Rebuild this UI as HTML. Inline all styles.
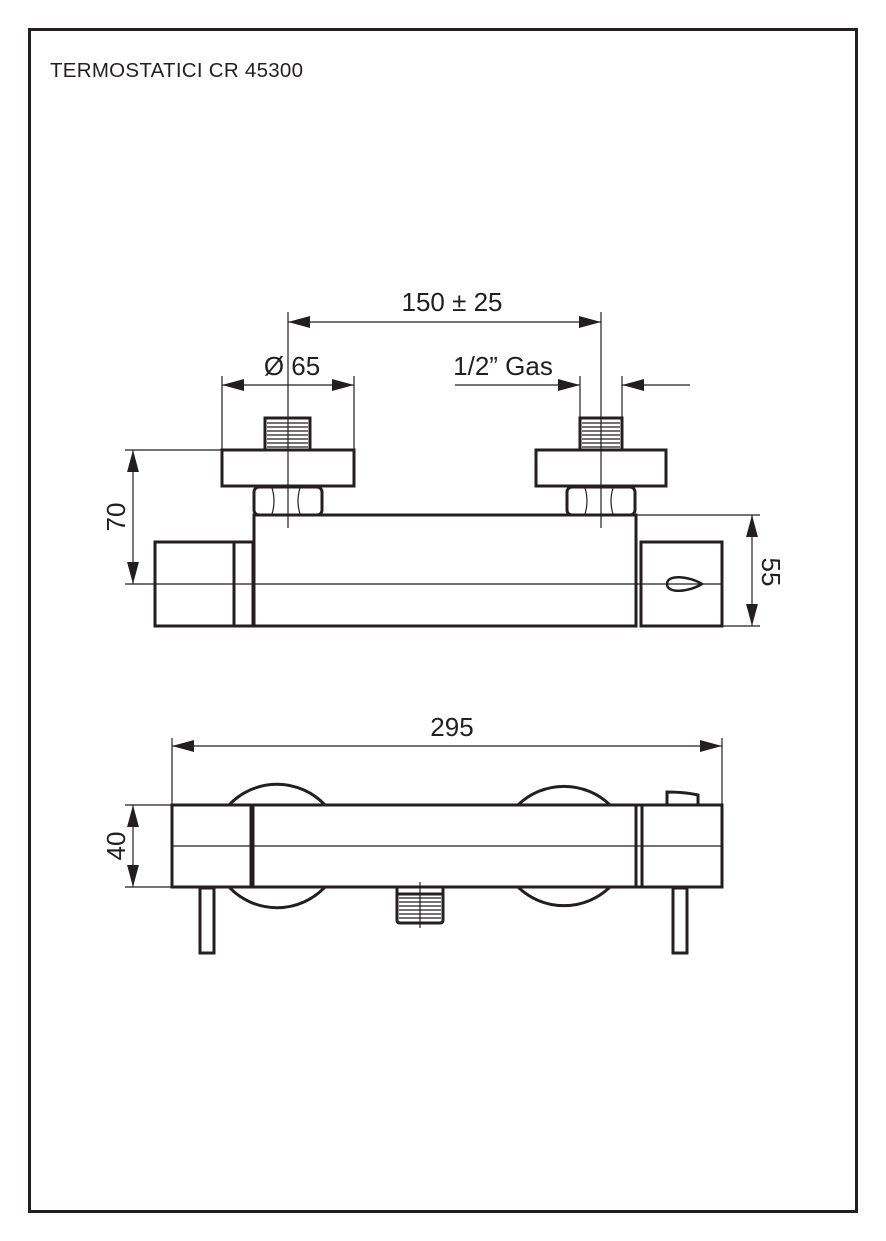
<!DOCTYPE html>
<html><head><meta charset="utf-8"><style>html,body{margin:0;padding:0;background:#fff}svg{display:block}</style></head>
<body>
<svg width="886" height="1241" viewBox="0 0 886 1241" xmlns="http://www.w3.org/2000/svg" font-family="Liberation Sans, sans-serif" fill="none" stroke="#231f20">
<defs>
<marker id="b" viewBox="0 0 10 10" refX="10" refY="5" markerWidth="22" markerHeight="22" markerUnits="userSpaceOnUse" orient="auto-start-reverse"><path d="M0,2.3 L10,5 L0,7.7z" fill="#231f20" stroke="none"/></marker>
</defs>
<rect x="29.5" y="29.5" width="827" height="1182" stroke-width="3"/>
<text x="50" y="77" font-size="20.5" fill="#231f20" stroke="none" textLength="253">TERMOSTATICI CR 45300</text>

<g stroke-width="1.2">
<line x1="288" y1="312" x2="288" y2="528"/><line x1="601" y1="312" x2="601" y2="528"/>
<line x1="288" y1="322" x2="601" y2="322" marker-start="url(#b)" marker-end="url(#b)"/>
<line x1="222" y1="376" x2="222" y2="450"/><line x1="354" y1="376" x2="354" y2="450"/>
<line x1="222" y1="385" x2="354" y2="385" marker-start="url(#b)" marker-end="url(#b)"/>
<line x1="580" y1="376" x2="580" y2="418"/><line x1="622" y1="376" x2="622" y2="418"/>
<line x1="455" y1="385" x2="580" y2="385" marker-end="url(#b)"/>
<line x1="690" y1="385" x2="622" y2="385" marker-end="url(#b)"/>
<line x1="125" y1="450" x2="222" y2="450"/>
<line x1="133" y1="450" x2="133" y2="584" marker-start="url(#b)" marker-end="url(#b)"/>
<line x1="636" y1="515" x2="760" y2="515"/><line x1="722" y1="626" x2="760" y2="626"/>
<line x1="752" y1="515" x2="752" y2="626" marker-start="url(#b)" marker-end="url(#b)"/>
<line x1="125" y1="584" x2="722" y2="584"/>
</g>
<g fill="#231f20" stroke="none" font-size="26">
<text x="452" y="311" text-anchor="middle">150 ± 25</text>
<text x="292" y="375" text-anchor="middle">Ø 65</text>
<text x="503" y="375" text-anchor="middle">1/2” Gas</text>
<text transform="translate(125,517) rotate(-90)" text-anchor="middle">70</text>
<text transform="translate(762,572) rotate(90)" text-anchor="middle">55</text>
<text x="452" y="736" text-anchor="middle">295</text>
<text transform="translate(125,846) rotate(-90)" text-anchor="middle">40</text>
</g>

<g stroke-width="3">
<rect x="265" y="418" width="45" height="32"/><rect x="580" y="418" width="42" height="32"/>
<rect x="222" y="450" width="132" height="36"/><rect x="536" y="450" width="130" height="36"/>
<rect x="254" y="487" width="68" height="28" rx="5"/><rect x="567" y="487" width="68" height="28" rx="5"/>
<path d="M254,626 V515 H636 V626 Z"/>
<rect x="155" y="542" width="98" height="84"/><line x1="234" y1="542" x2="234" y2="626"/>
<rect x="641" y="542" width="81" height="84"/>
<path d="M667,584 c0,-10 22,-8 35,0 c-13,8 -35,10 -35,0z" stroke-width="2.5"/>
</g>
<g stroke-width="1.2">
<path d="M267,423H308M267,427H308M267,431H308M267,435H308M267,439H308M267,443H308M267,447H308"/>
<path d="M582,423H620M582,427H620M582,431H620M582,435H620M582,439H620M582,443H620M582,447H620"/>
<path d="M272,488 q4,13 0,26 M300,488 q-4,13 0,26 M585,488 q4,13 0,26 M613,488 q-4,13 0,26"/>
</g>

<g stroke-width="1.2">
<line x1="172" y1="738" x2="172" y2="805"/><line x1="722" y1="738" x2="722" y2="805"/>
<line x1="172" y1="746" x2="722" y2="746" marker-start="url(#b)" marker-end="url(#b)"/>
<line x1="125" y1="805" x2="172" y2="805"/><line x1="125" y1="887" x2="172" y2="887"/>
<line x1="133" y1="805" x2="133" y2="887" marker-start="url(#b)" marker-end="url(#b)"/>
<line x1="172" y1="846" x2="722" y2="846"/>
<line x1="420" y1="882" x2="420" y2="928"/>
<path d="M399,898H441M399,902H441M399,906H441M399,910H441M399,914H441M399,918H441"/>
</g>
<g stroke-width="3">
<path d="M229,805 A66,66 0 0 1 325,805 M229,887 A66,66 0 0 0 325,887"/>
<path d="M518,805 A66,66 0 0 1 610,805 M518,887 A66,66 0 0 0 610,887"/>
<rect x="172" y="805" width="550" height="82"/>
<line x1="252" y1="805" x2="252" y2="887" stroke-width="5"/>
<line x1="636" y1="805" x2="636" y2="887"/><line x1="642" y1="805" x2="642" y2="887"/>
<path d="M667,805 V792 Q685,792 698,795 V805"/>
<rect x="200" y="888" width="14" height="65"/><rect x="673" y="888" width="14" height="65"/>
<path d="M397,888 V920 q0,3 3,3 H440 q3,0 3,-3 V888"/>
<line x1="397" y1="894" x2="443" y2="894"/>
</g>
</svg>
</body></html>
